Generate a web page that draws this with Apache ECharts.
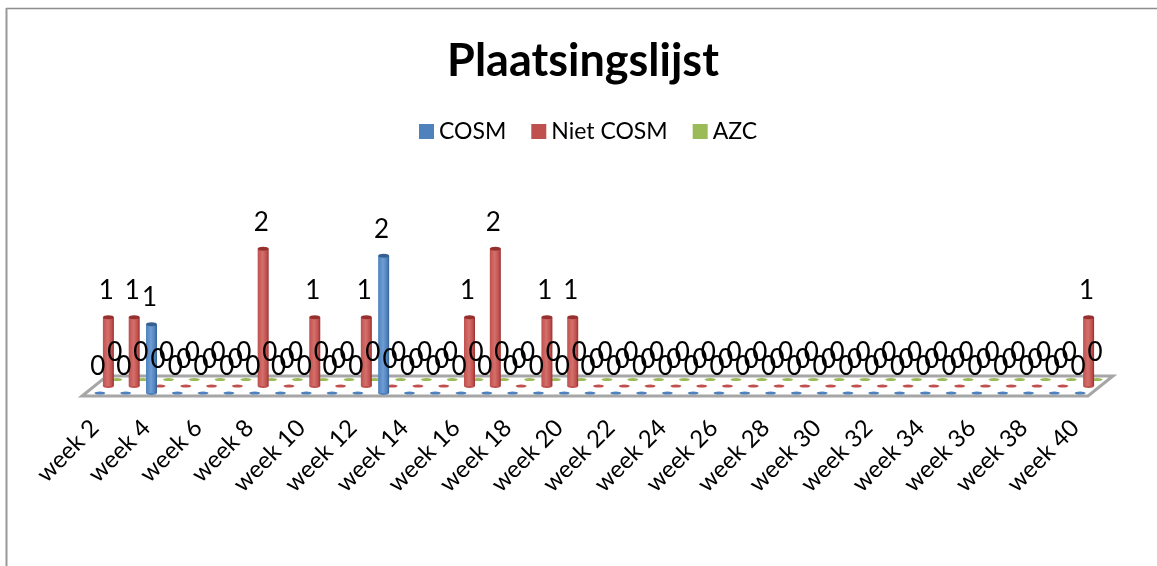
<!DOCTYPE html>
<html><head><meta charset="utf-8">
<style>html,body{margin:0;padding:0;background:#fff}#c{width:1157px;height:566px}</style>
<script src="https://cdn.jsdelivr.net/npm/echarts@6/dist/echarts.min.js"></script>
</head><body><div id="c"></div>
<script>
var weeks = [];
for (var w = 2; w <= 40; w++) weeks.push('week ' + w);
var cosm    = [0,0,1,0,0,0,0,0,0,0,0,2,0,0,0,0,0,0,0,0,0,0,0,0,0,0,0,0,0,0,0,0,0,0,0,0,0,0,0];
var nietCosm= [1,1,0,0,0,0,2,0,1,0,1,0,0,0,1,2,0,1,1,0,0,0,0,0,0,0,0,0,0,0,0,0,0,0,0,0,0,0,1];
var azc     = [0,0,0,0,0,0,0,0,0,0,0,0,0,0,0,0,0,0,0,0,0,0,0,0,0,0,0,0,0,0,0,0,0,0,0,0,0,0,0];

var FONT = 'Lato, "Open Sans", sans-serif';
function cylinder(base, light, dark, dx, dy, z) {
  return function (params, api) {
    var v = api.value(1);
    var p0 = api.coord([api.value(0), 0]);
    var p1 = api.coord([api.value(0), v]);
    var x = p0[0] + dx, yb = p0[1] + dy, yt = p1[1] + dy;
    var r = 5.5, kids = [];
    if (v > 0) {
      kids.push({type:'ellipse', z2:z, shape:{cx:x, cy:yb, rx:r, ry:2}, style:{fill:base}});
      kids.push({type:'rect', z2:z, shape:{x:x-r, y:yt, width:2*r, height:yb-yt}, style:{
        fill:{type:'linear',x:0,y:0,x2:1,y2:0,colorStops:[
          {offset:0,color:base},{offset:0.45,color:light},{offset:0.8,color:base},{offset:1,color:dark}]}}});
      kids.push({type:'ellipse', z2:z+1, shape:{cx:x, cy:yt, rx:r, ry:2}, style:{fill:dark}});
    } else {
      kids.push({type:'ellipse', z2:z, shape:{cx:x, cy:yb, rx:r, ry:1.6}, style:{fill:base}});
    }
    kids.push({type:'text', z2:30, style:{x:x-2, y:yt-26.5, text:String(v), fill:'#000',
      font:'26px '+FONT, textAlign:'center', textVerticalAlign:'middle'}});
    return {type:'group', children:kids};
  };
}
function toData(a){ return a.map(function(v,i){ return [i,v]; }); }
function mkSeries(name, arr, col, light, dark, dx, dy, z){
  return {name:name, type:'custom', data:toData(arr), encode:{x:0,y:1},
    itemStyle:{color:col}, renderItem:cylinder(col, light, dark, dx, dy, z), clip:false};
}
var chart = echarts.init(document.getElementById('c'), null, {renderer:'canvas'});
chart.setOption({
  animation:false,
  backgroundColor:'#fff',
  title:{text:'Plaatsingslijst', left:578, top:34, textAlign:'center',
    textStyle:{fontFamily:FONT, fontWeight:'bold', fontSize:45, color:'#000'}},
  legend:{data:['COSM','Niet COSM','AZC'], left:414, top:115, itemWidth:15, itemHeight:15, itemGap:25,
    icon:'rect', textStyle:{fontFamily:FONT, fontSize:23, color:'#000', padding:[0,0,0,0]}},
  grid:{left:82, top:190, width:1006, height:206, containLabel:false},
  xAxis:{type:'category', data:weeks, axisLine:{show:false}, axisTick:{show:false},
    axisLabel:{interval:1, rotate:45, fontFamily:FONT, fontSize:24, color:'#000', margin:28}},
  yAxis:{type:'value', min:0, max:3, interval:1, show:false, splitLine:{show:false}},
  graphic:[
    {type:'line', silent:true, shape:{x1:6,y1:8.5,x2:1157,y2:8.5}, style:{stroke:'#8c8c8c',lineWidth:1.5}},
    {type:'line', silent:true, shape:{x1:6.5,y1:8,x2:6.5,y2:566}, style:{stroke:'#999',lineWidth:2}}
  ],
  series:[
    {type:'custom', data:[[0,0]], encode:{x:0,y:1}, silent:true, z:1, renderItem:function(p,api){
      var c=p.coordSys, yF=c.y+c.height, xL=c.x, xR=c.x+c.width;
      return {type:'polygon', shape:{points:[[xL,yF],[xR,yF],[xR+25,yF-20],[xL+25,yF-20]]},
        style:{fill:'#fff',stroke:'#a6a6a6',lineWidth:3}};
    }},
    mkSeries('AZC', azc, '#9BBB59', '#b5d174', '#7f9a45', 22, -16.5, 10),
    mkSeries('Niet COSM', nietCosm, '#C0504D', '#d4706c', '#96302e', 13.5, -10, 12),
    mkSeries('COSM', cosm, '#4F81BD', '#6f9dd4', '#35608f', 5, -3, 14)
  ]
});
</script></body></html>
